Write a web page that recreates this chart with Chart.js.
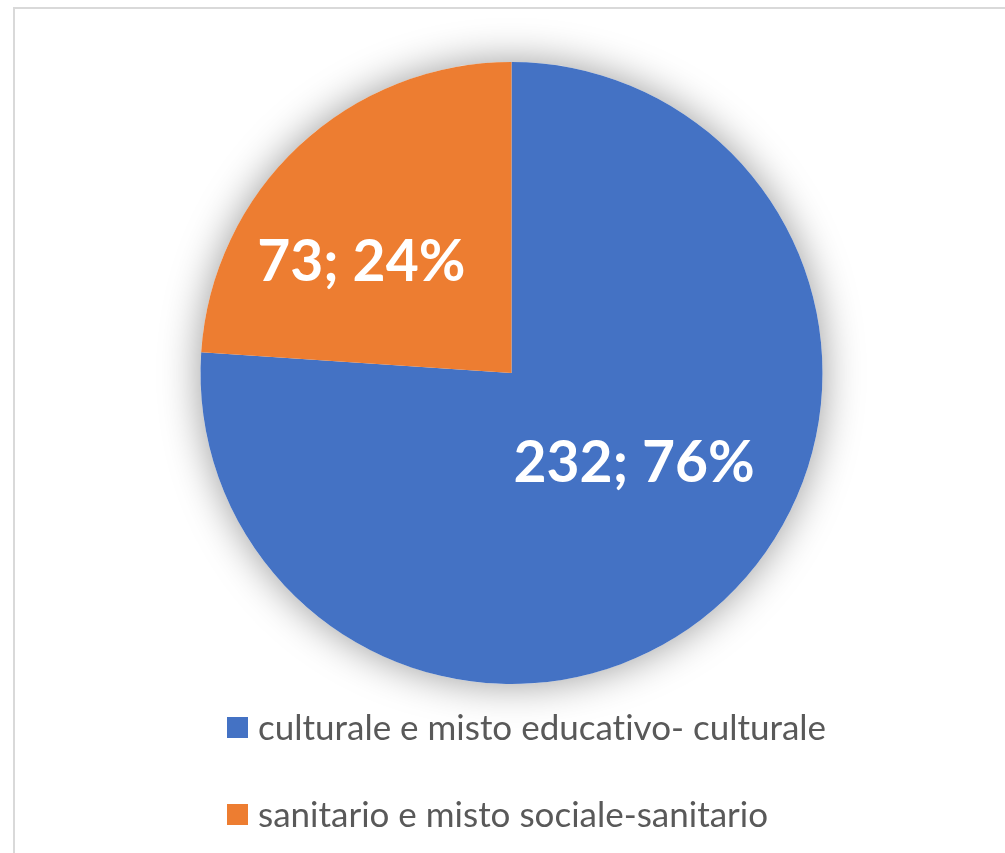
<!DOCTYPE html>
<html>
<head>
<meta charset="utf-8">
<script src="https://cdn.jsdelivr.net/npm/chart.js@4.4.1/dist/chart.umd.min.js"></script>
<style>
  html, body { margin: 0; padding: 0; background: #fff; }
  body { width: 1005px; height: 853px; position: relative; overflow: hidden; }
  .frame {
    position: absolute; left: 13px; top: 7px; width: 1100px; height: 1000px;
    border: 2px solid #d9d9d9; box-sizing: border-box;
  }
  .wrap { position: absolute; left: 0; top: 0; width: 1005px; height: 853px; }
  #legend { position: absolute; left: 227px; top: 0; font-family: Lato, sans-serif; color: #595959; font-variant-ligatures: none; }
  #legend div { position: absolute; white-space: nowrap; font-size: 35px; line-height: 44px; }
  #legend span.box { position: absolute; left: 0; top: 11px; width: 21px; height: 21px; }
  #legend span.txt { position: absolute; left: 31px; top: -2px; }
</style>
</head>
<body>
<div class="frame"></div>
<div class="wrap"><canvas id="pieChart" width="1005" height="853"></canvas></div>
<div id="legend"></div>
<script>
// categories and values
const categories = ['culturale e misto educativo- culturale', 'sanitario e misto sociale-sanitario'];
const counts = [232, 73];
const percents = [76, 24];
const colors = ['#4472c4', '#ed7d31'];

// soft glow behind the pie, drawn from the arc geometry
const pieShadow = {
  id: 'pieShadow',
  beforeDatasetsDraw(chart) {
    const arc = chart.getDatasetMeta(0).data[0];
    if (!arc) return;
    const ctx = chart.ctx;
    ctx.save();
    ctx.shadowColor = 'rgba(0,0,0,0.4)';
    ctx.shadowBlur = 40;
    ctx.fillStyle = '#ffffff';
    ctx.beginPath();
    ctx.arc(arc.x, arc.y, arc.outerRadius, 0, Math.PI * 2);
    ctx.fill();
    ctx.restore();
  }
};

// "value; percent" labels inside the slices
const sliceLabels = {
  id: 'sliceLabels',
  afterDatasetsDraw(chart, args, opts) {
    const ctx = chart.ctx;
    const meta = chart.getDatasetMeta(0);
    ctx.save();
    ctx.fillStyle = '#ffffff';
    ctx.font = 'bold ' + opts.size + 'px Lato, sans-serif';
    ctx.textAlign = 'center';
    ctx.textBaseline = 'middle';
    meta.data.forEach((arc, i) => {
      const mid = (arc.startAngle + arc.endAngle) / 2 + opts.shift * Math.PI / 180;
      const r = arc.outerRadius * opts.radius[i];
      const x = arc.x + Math.cos(mid) * r;
      const y = arc.y + Math.sin(mid) * r;
      ctx.fillText(counts[i] + '; ' + percents[i] + '%', x, y);
    });
    ctx.restore();
  }
};

const ctx = document.getElementById('pieChart').getContext('2d');
const chart = new Chart(ctx, {
  type: 'pie',
  data: {
    labels: categories,
    datasets: [{
      data: counts,
      backgroundColor: colors,
      borderWidth: 0
    }]
  },
  options: {
    responsive: false,
    animation: false,
    layout: { padding: { top: 62, bottom: 169, left: 20, right: 2 } },
    plugins: {
      legend: { display: false },
      tooltip: { enabled: false },
      sliceLabels: { size: 57, shift: -10.5, radius: [0.49, 0.6] }
    }
  },
  plugins: [pieShadow, sliceLabels]
});

// legend built from the chart's own legend items
const legendEl = document.getElementById('legend');
const rowTops = [706, 793];
chart.options.plugins.legend.labels.generateLabels(chart).forEach((item, i) => {
  const row = document.createElement('div');
  row.style.top = rowTops[i] + 'px';
  row.innerHTML = '<span class="box" style="background:' + item.fillStyle + '"></span><span class="txt">' + item.text + '</span>';
  legendEl.appendChild(row);
});
</script>
</body>
</html>
